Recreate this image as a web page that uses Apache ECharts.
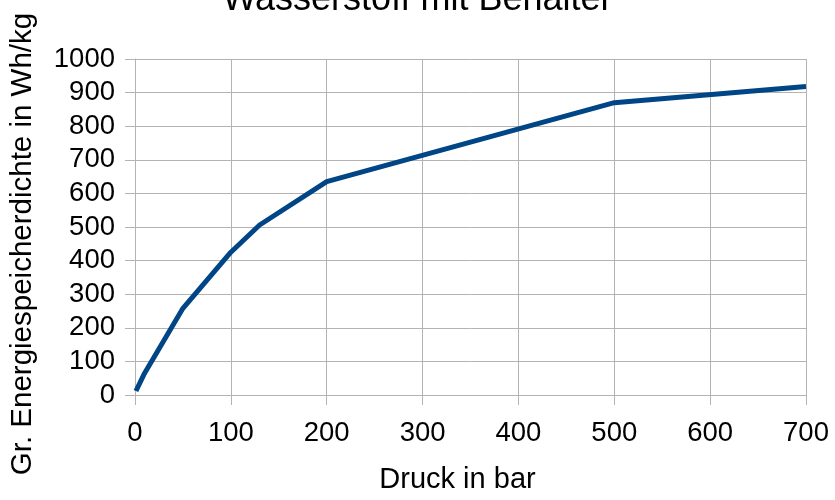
<!DOCTYPE html>
<html><head><meta charset="utf-8">
<script src="https://cdn.jsdelivr.net/npm/echarts@6/dist/echarts.min.js"></script>
<style>html,body{margin:0;padding:0;background:#fff}#c{width:835px;height:500px}</style>
</head><body><div id="c"></div>
<script>
const titleText = "Wasserstoff mit Behälter";
const xName = "Druck in bar";
const yName = "Gr. Energiespeicherdichte in Wh/kg";
const pressure = [1, 10, 50, 100, 130, 200, 500, 700];
const density = [12, 65, 258, 425, 506, 635, 870, 918];
const data = pressure.map((p, i) => [p, density[i]]);
const gridColor = '#b3b3b3';
const font = 'Liberation Sans, Arial, sans-serif';
const chart = echarts.init(document.getElementById('c'), null, {renderer: 'canvas'});
chart.setOption({
  animation: false,
  backgroundColor: '#fff',
  title: {text: titleText, left: 'center', top: -23,
    textStyle: {fontFamily: font, fontSize: 36, fontWeight: 'normal', color: '#000'}},
  grid: {left: 134, right: 29, top: 59, bottom: 105, containLabel: false},
  xAxis: {type: 'value', min: 0, max: 700, interval: 100,
    name: xName, nameLocation: 'middle', nameGap: 70,
    nameTextStyle: {fontFamily: font, fontSize: 29, color: '#000', padding: [0, 26, 0, 0]},
    axisLine: {show: true, lineStyle: {color: gridColor, width: 1}},
    axisTick: {show: true, length: 10, lineStyle: {color: gridColor}},
    axisLabel: {fontFamily: font, fontSize: 27.5, color: '#000', margin: 24, formatter: v => String(v)},
    splitLine: {show: true, lineStyle: {color: gridColor, width: 1}}},
  yAxis: {type: 'value', min: 0, max: 1000, interval: 100,
    name: yName, nameLocation: 'middle', nameGap: 97,
    nameTextStyle: {fontFamily: font, fontSize: 29.5, color: '#000', padding: [0, 34, 0, 0]},
    axisLine: {show: true, lineStyle: {color: gridColor, width: 1}},
    axisTick: {show: true, length: 10, lineStyle: {color: gridColor}},
    axisLabel: {fontFamily: font, fontSize: 27.5, color: '#000', margin: 20, formatter: v => String(v)},
    splitLine: {show: true, lineStyle: {color: gridColor, width: 1}}},
  series: [{type: 'line', data: data, symbol: 'none',
    lineStyle: {color: '#004586', width: 5}}]
});
</script></body></html>
